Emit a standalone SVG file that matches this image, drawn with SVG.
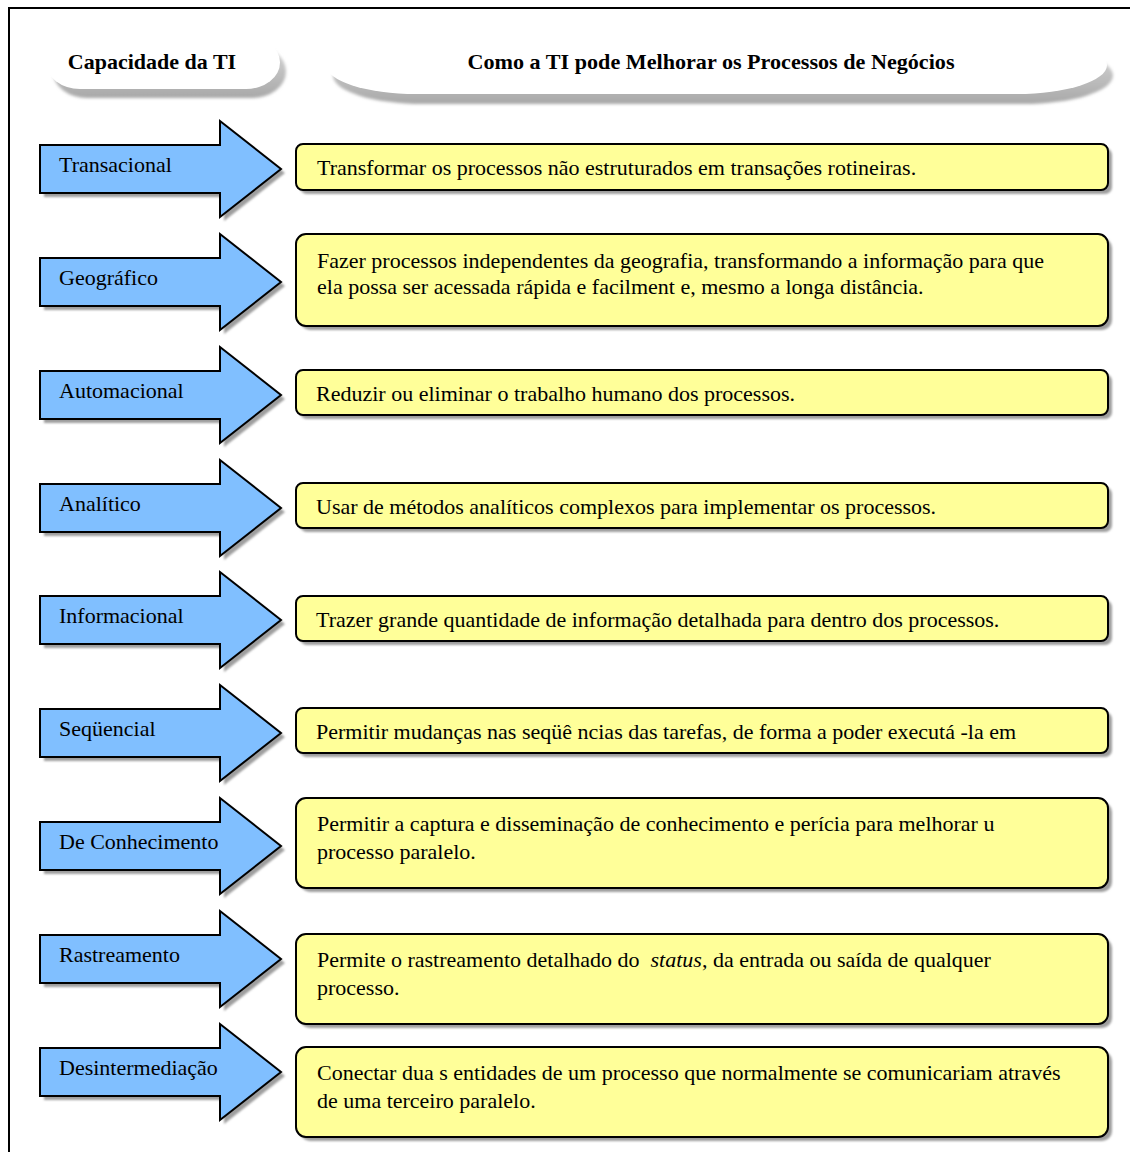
<svg xmlns="http://www.w3.org/2000/svg" width="1130" height="1152" viewBox="0 0 1130 1152">
  <style>
    .arrow { fill: #80bfff; stroke: #000; stroke-width: 2; stroke-linejoin: miter; }
    .box { fill: #ffff99; stroke: #000; stroke-width: 2; }
    .shadow { fill: #9e9e9e; filter: url(#soft); }
    .lbl { font-family: "Liberation Serif", "Times New Roman", serif; font-size: 22px; fill: #000; }
    .txt { font-family: "Liberation Serif", "Times New Roman", serif; font-size: 22px; fill: #000; white-space: pre; }
    .hdr { font-family: "Liberation Serif", "Times New Roman", serif; font-size: 22px; font-weight: bold; fill: #000; }
  </style>
  <defs>
    <filter id="soft" x="-5%" y="-20%" width="110%" height="140%">
      <feGaussianBlur stdDeviation="0.8"/>
    </filter>
    <filter id="pillblur" x="-5%" y="-20%" width="110%" height="140%">
      <feGaussianBlur stdDeviation="1.5"/>
    </filter>
    <linearGradient id="pillgrad" x1="0" y1="0" x2="0" y2="1">
      <stop offset="0" stop-color="#d8d8d8"/>
      <stop offset="1" stop-color="#a8a8a8"/>
    </linearGradient>
    <!-- block arrow centred on y = 0 -->
    <path id="arrowShape" d="M40,-24 H220 V-48 L281,0 L220,48 V24 H40 Z"/>
  </defs>

  <rect width="1130" height="1152" fill="#fff"/>
  <!-- frame (open on right and bottom) -->
  <path d="M9,1152 V8 H1130" fill="none" stroke="#000" stroke-width="2"/>

  <!-- column headers -->
  <g id="header-capacidade">
    <rect x="53" y="45" width="233" height="53" rx="34" ry="28" fill="url(#pillgrad)" filter="url(#pillblur)"/>
    <rect x="46" y="36" width="234" height="53" rx="34" ry="28" fill="#fff"/>
    <text class="hdr" x="152" y="69" text-anchor="middle">Capacidade da TI</text>
  </g>
  <g id="header-como">
    <rect x="333" y="47" width="780" height="57" rx="90" ry="30" fill="url(#pillgrad)" filter="url(#pillblur)"/>
    <rect x="326" y="36" width="781" height="58" rx="90" ry="30" fill="#fff"/>
    <text class="hdr" x="711" y="69" text-anchor="middle" textLength="487" lengthAdjust="spacingAndGlyphs">Como a TI pode Melhorar os Processos de Negócios</text>
  </g>

  <!-- capability arrows -->
  <g id="arrows">
    <g id="cap-transacional" transform="translate(0,169)">
      <use href="#arrowShape" class="shadow" x="4" y="4"/>
      <use href="#arrowShape" class="arrow"/>
      <text class="lbl" x="59" y="3">Transacional</text>
    </g>
    <g id="cap-geografico" transform="translate(0,282)">
      <use href="#arrowShape" class="shadow" x="4" y="4"/>
      <use href="#arrowShape" class="arrow"/>
      <text class="lbl" x="59" y="3">Geográfico</text>
    </g>
    <g id="cap-automacional" transform="translate(0,395)">
      <use href="#arrowShape" class="shadow" x="4" y="4"/>
      <use href="#arrowShape" class="arrow"/>
      <text class="lbl" x="59" y="3">Automacional</text>
    </g>
    <g id="cap-analitico" transform="translate(0,508)">
      <use href="#arrowShape" class="shadow" x="4" y="4"/>
      <use href="#arrowShape" class="arrow"/>
      <text class="lbl" x="59" y="3">Analítico</text>
    </g>
    <g id="cap-informacional" transform="translate(0,620)">
      <use href="#arrowShape" class="shadow" x="4" y="4"/>
      <use href="#arrowShape" class="arrow"/>
      <text class="lbl" x="59" y="3">Informacional</text>
    </g>
    <g id="cap-sequencial" transform="translate(0,733)">
      <use href="#arrowShape" class="shadow" x="4" y="4"/>
      <use href="#arrowShape" class="arrow"/>
      <text class="lbl" x="59" y="3">Seqüencial</text>
    </g>
    <g id="cap-conhecimento" transform="translate(0,846)">
      <use href="#arrowShape" class="shadow" x="4" y="4"/>
      <use href="#arrowShape" class="arrow"/>
      <text class="lbl" x="59" y="3">De Conhecimento</text>
    </g>
    <g id="cap-rastreamento" transform="translate(0,959)">
      <use href="#arrowShape" class="shadow" x="4" y="4"/>
      <use href="#arrowShape" class="arrow"/>
      <text class="lbl" x="59" y="3">Rastreamento</text>
    </g>
    <g id="cap-desintermediacao" transform="translate(0,1072)">
      <use href="#arrowShape" class="shadow" x="4" y="4"/>
      <use href="#arrowShape" class="arrow"/>
      <text class="lbl" x="59" y="3">Desintermediação</text>
    </g>
  </g>

  <!-- description boxes -->
  <g id="desc-transacional">
    <rect class="shadow" x="300" y="148" width="812" height="46" rx="7"/>
    <rect class="box" x="296" y="144" width="812" height="46" rx="7"/>
    <text class="txt" x="317" y="175">Transformar os processos não estruturados em transações rotineiras.</text>
  </g>
  <g id="desc-geografico">
    <rect class="shadow" x="300" y="238" width="812" height="92" rx="10"/>
    <rect class="box" x="296" y="234" width="812" height="92" rx="10"/>
    <text class="txt" x="317" y="268">Fazer processos independentes da geografia, transformando a informação para que</text>
    <text class="txt" x="317" y="294">ela possa ser acessada rápida e facilment e, mesmo a longa distância.</text>
  </g>
  <g id="desc-automacional">
    <rect class="shadow" x="300" y="374" width="812" height="45" rx="7"/>
    <rect class="box" x="296" y="370" width="812" height="45" rx="7"/>
    <text class="txt" x="316" y="401">Reduzir ou eliminar o trabalho humano dos processos.</text>
  </g>
  <g id="desc-analitico">
    <rect class="shadow" x="300" y="487" width="812" height="45" rx="7"/>
    <rect class="box" x="296" y="483" width="812" height="45" rx="7"/>
    <text class="txt" x="316" y="514">Usar de métodos analíticos complexos para implementar os processos.</text>
  </g>
  <g id="desc-informacional">
    <rect class="shadow" x="300" y="600" width="812" height="45" rx="7"/>
    <rect class="box" x="296" y="596" width="812" height="45" rx="7"/>
    <text class="txt" x="316" y="627">Trazer grande quantidade de informação detalhada para dentro dos processos.</text>
  </g>
  <g id="desc-sequencial">
    <rect class="shadow" x="300" y="712" width="812" height="45" rx="7"/>
    <rect class="box" x="296" y="708" width="812" height="45" rx="7"/>
    <text class="txt" x="316" y="739">Permitir mudanças nas seqüê ncias das tarefas, de forma a poder executá -la em</text>
  </g>
  <g id="desc-conhecimento">
    <rect class="shadow" x="300" y="802" width="812" height="90" rx="10"/>
    <rect class="box" x="296" y="798" width="812" height="90" rx="10"/>
    <text class="txt" x="317" y="831">Permitir a captura e disseminação de conhecimento e perícia para melhorar u</text>
    <text class="txt" x="317" y="859">processo paralelo.</text>
  </g>
  <g id="desc-rastreamento">
    <rect class="shadow" x="300" y="938" width="812" height="90" rx="10"/>
    <rect class="box" x="296" y="934" width="812" height="90" rx="10"/>
    <text class="txt" x="317" y="967">Permite o rastreamento detalhado do  <tspan font-style="italic">status</tspan>, da entrada ou saída de qualquer</text>
    <text class="txt" x="317" y="995">processo.</text>
  </g>
  <g id="desc-desintermediacao">
    <rect class="shadow" x="300" y="1051" width="812" height="90" rx="10"/>
    <rect class="box" x="296" y="1047" width="812" height="90" rx="10"/>
    <text class="txt" x="317" y="1080">Conectar dua s entidades de um processo que normalmente se comunicariam através</text>
    <text class="txt" x="317" y="1108">de uma terceiro paralelo.</text>
  </g>
</svg>
